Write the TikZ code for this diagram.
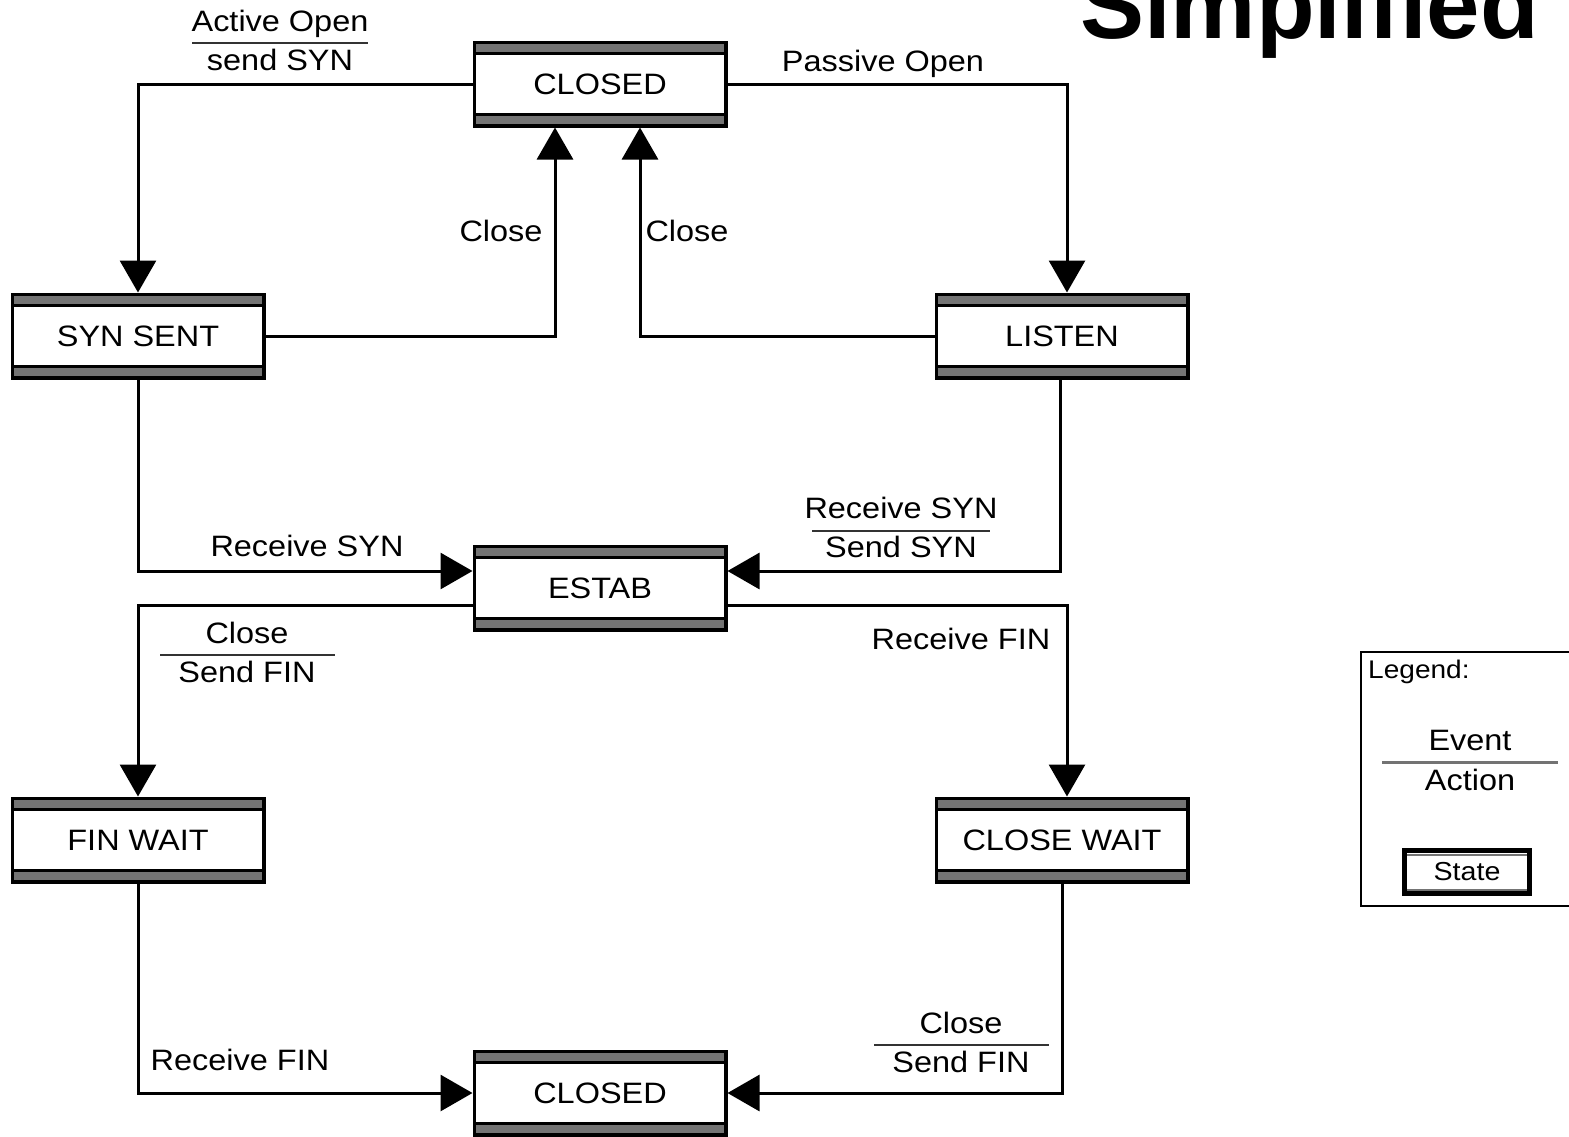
\documentclass[tikz,border=0pt]{standalone}
\usepackage{fontspec}
\setmainfont[FakeStretch=1.1]{Liberation Sans}
\newfontfamily\titlefont{Liberation Sans}
\usetikzlibrary{arrows.meta}
\definecolor{bandgray}{HTML}{747474}
\tikzset{
  stbox/.style={draw=black, line width=3.5pt, fill=white,
    minimum width=251.5pt, minimum height=83.5pt, inner sep=0pt,
    font=\fontsize{29.5}{34}\selectfont,
    path picture={
      \fill[bandgray] (path picture bounding box.north west) rectangle ([yshift=-10pt]path picture bounding box.north east);
      \fill[black] ([yshift=-10pt]path picture bounding box.north west) rectangle ([yshift=-12.5pt]path picture bounding box.north east);
      \fill[bandgray] (path picture bounding box.south west) rectangle ([yshift=10pt]path picture bounding box.south east);
      \fill[black] ([yshift=10pt]path picture bounding box.south west) rectangle ([yshift=12.5pt]path picture bounding box.south east);
    }},
  legbox/.style={draw=black, line width=5pt, fill=white,
    minimum width=125pt, minimum height=43pt, inner sep=0pt,
    font=\fontsize{26}{30}\selectfont,
    path picture={
      \fill[bandgray] ([yshift=-3pt]path picture bounding box.north west) rectangle ([yshift=-5pt]path picture bounding box.north east);
      \fill[bandgray] ([yshift=3pt]path picture bounding box.south west) rectangle ([yshift=5pt]path picture bounding box.south east);
    }},
  conn/.style={line width=3pt, -{Triangle[length=32pt,width=36pt]}},
  lbl/.style={font=\fontsize{29.5}{34}\selectfont, inner sep=0pt, anchor=base},
  rulel/.style={line width=2.5pt, draw=black!80},
}
\begin{document}
\begin{tikzpicture}[x=1pt,y=-1pt]
\useasboundingbox (0,0) rectangle (1569,1136);
\fill[white] (0,0) rectangle (1569,1136);

% title
\node[font=\titlefont\bfseries\fontsize{96}{100}\selectfont, inner sep=0pt, anchor=base west] (title) at (1080,38) {Simplified};

% states
\node[stbox] (closedT) at (600,84) {CLOSED};
\node[stbox] (synsent) at (138,336) {SYN SENT};
\node[stbox] (listen) at (1062,336) {LISTEN};
\node[stbox] (estab) at (600,588) {ESTAB};
\node[stbox] (finwait) at (138,840) {FIN WAIT};
\node[stbox] (closewait) at (1062,840) {CLOSE WAIT};
\node[stbox] (closedB) at (600,1093) {CLOSED};

% connectors
\draw[conn] (closedT.west) -| (synsent.north);
\draw[conn] (closedT.east) -| ([xshift=5pt]listen.north);
\draw[conn] (synsent.east) -| ([xshift=-45pt]closedT.south);
\draw[conn] (listen.west) -| ([xshift=40pt]closedT.south);
\draw[conn] (synsent.south) |- ([yshift=17pt]estab.west);
\draw[conn] ([xshift=-2pt]listen.south) |- ([yshift=17pt]estab.east);
\draw[conn] ([yshift=-17pt]estab.west) -| (finwait.north);
\draw[conn] ([yshift=-17pt]estab.east) -| ([xshift=5pt]closewait.north);
\draw[conn] (finwait.south) |- (closedB.west);
\draw[conn] (closewait.south) |- (closedB.east);

% labels
\node[lbl] (l1a) at (280,31) {Active Open};
\node[lbl] (l1b) at (280,70) {send SYN};
\draw[rulel] (192,43) -- (368,43);
\node[lbl] (l2) at (883,71) {Passive Open};
\node[lbl] (l3) at (501,241) {Close};
\node[lbl] (l4) at (687,241) {Close};
\node[lbl] (l5) at (307,556) {Receive SYN};
\node[lbl] (l6a) at (901,518) {Receive SYN};
\node[lbl] (l6b) at (901,557) {Send SYN};
\draw[rulel] (812,531) -- (990,531);
\node[lbl] (l7a) at (247,643) {Close};
\node[lbl] (l7b) at (247,682) {Send FIN};
\draw[rulel] (160,655) -- (335,655);
\node[lbl] (l8) at (961,649) {Receive FIN};
\node[lbl] (l9) at (240,1070) {Receive FIN};
\node[lbl] (l10a) at (961,1033) {Close};
\node[lbl] (l10b) at (961,1072) {Send FIN};
\draw[rulel] (874,1045) -- (1049,1045);

% legend
\draw[line width=1.5pt] (1361,652) rectangle (1620,906);
\node[font=\fontsize{25.5}{30}\selectfont, inner sep=0pt, anchor=base west] (legt) at (1368,678) {Legend:};
\node[lbl] (leve) at (1470,750) {Event};
\node[lbl] (lact) at (1470,790) {Action};
\draw[line width=3pt, draw=black!55] (1382,762) -- (1558,762);
\node[legbox] (legstate) at (1467,872) {State};
\end{tikzpicture}
\end{document}
